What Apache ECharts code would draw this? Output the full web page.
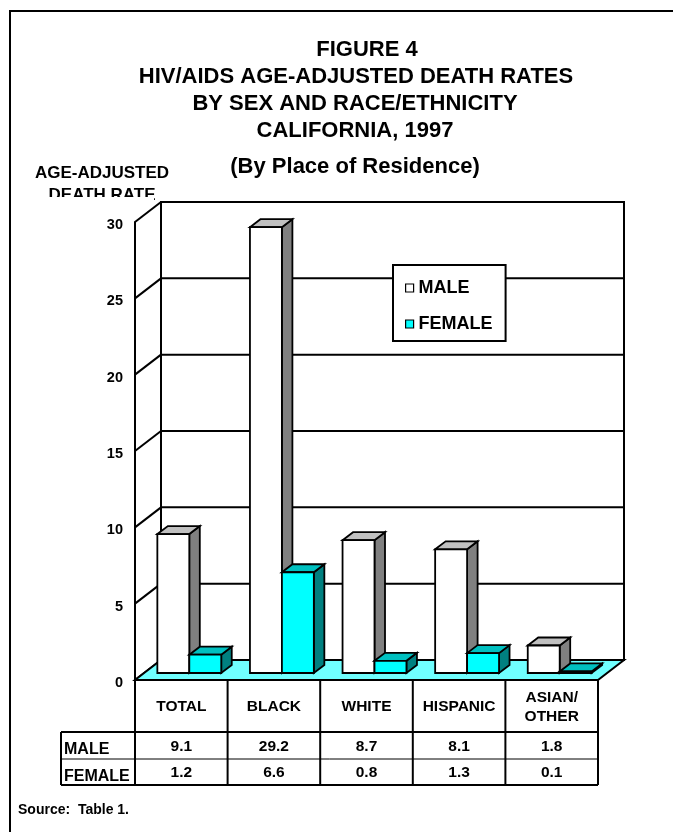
<!DOCTYPE html>
<html><head><meta charset="utf-8">
<script src="https://cdn.jsdelivr.net/npm/echarts@6/dist/echarts.min.js"></script>
<style>html,body{margin:0;padding:0;background:#fff}#c{width:673px;height:832px}</style>
</head><body><div id="c"></div>
<script>
// ---- data ----
const categories = ['TOTAL', 'BLACK', 'WHITE', 'HISPANIC', 'ASIAN/\nOTHER'];
const maleRates = [9.1, 29.2, 8.7, 8.1, 1.8];
const femaleRates = [1.2, 6.6, 0.8, 1.3, 0.1];
const yTicks = [0, 5, 10, 15, 20, 25, 30];
const seriesNames = ['MALE', 'FEMALE'];
const figureLabel = 'FIGURE 4';
const titleLines = ['HIV/AIDS AGE-ADJUSTED DEATH RATES', 'BY SEX AND RACE/ETHNICITY', 'CALIFORNIA, 1997'];
const subTitle = '(By Place of Residence)';
const yAxisTitle = 'AGE-ADJUSTED\nDEATH RATE';
const sourceNote = 'Source:  Table 1.';

// ---- styling constants ----
const FONT = '"Liberation Sans", Arial, Helvetica, sans-serif';
const WALL_DEPTH = [26, -20];
const BAR_SHIFT = [8, -7];
const BAR_DEPTH = [10.5, -8];
const BAR_FRAC = 0.345;
const FLOOR = '#70ffff';
const MALE_COL = { front: '#ffffff', side: '#808080', top: '#c0c0c0' };
const FEMALE_COL = { front: '#00ffff', side: '#008080', top: '#00c0c0' };
const T_HEAD = 52, T_ROW1 = 27, T_ROW2 = 26, LABEL_X = 61;

function ln(a, b, c, d, w) {
  return { type: 'line', shape: { x1: a, y1: b, x2: c, y2: d }, style: { stroke: '#000', lineWidth: w || 2 } };
}
function txt(x, y, s, size, align, valign) {
  return { type: 'text', x: x, y: y, style: { text: s, fill: '#000', font: 'bold ' + size + 'px ' + FONT,
    align: align || 'center', verticalAlign: valign || 'middle', textAlign: align || 'center', textVerticalAlign: valign || 'middle', lineHeight: size + 4 } };
}

function renderFrame(params, api) {
  const cs = params.coordSys;
  const x0 = cs.x, x1 = cs.x + cs.width;
  const band = api.size([1, 0])[0];
  const yOf = v => api.coord([0, v])[1];
  const yBase = yOf(0);
  const yTop = yOf(yTicks[yTicks.length - 1]);
  const dx = WALL_DEPTH[0], dy = WALL_DEPTH[1];
  const ch = [];
  ch.push({ type: 'rect', shape: { x: x0 + dx, y: yTop + dy, width: cs.width, height: yBase - yTop },
    style: { fill: '#fff', stroke: '#000', lineWidth: 2 } });
  yTicks.forEach(v => { if (v > yTicks[0] && v < yTicks[yTicks.length - 1]) ch.push(ln(x0 + dx, yOf(v) + dy, x1 + dx, yOf(v) + dy)); });
  ch.push(ln(x0 + dx, yTop + dy, x0 + dx, yBase + dy));
  yTicks.forEach(v => ch.push(ln(x0, yOf(v), x0 + dx, yOf(v) + dy)));
  ch.push({ type: 'polygon', shape: { points: [[x0, yBase], [x1, yBase], [x1 + dx, yBase + dy], [x0 + dx, yBase + dy]] },
    style: { fill: FLOOR, stroke: '#000', lineWidth: 2, lineJoin: 'miter' } });
  // table
  const yH = yBase + T_HEAD, yR = yH + T_ROW1, yB = yR + T_ROW2;
  for (let k = 0; k <= categories.length; k++) ch.push(ln(x0 + k * band, yBase, x0 + k * band, yB));
  ch.push(ln(LABEL_X, yH, x1, yH));
  ch.push(ln(LABEL_X, yR, x1, yR, 1));
  ch.push(ln(LABEL_X, yB, x1, yB));
  ch.push(ln(LABEL_X, yH, LABEL_X, yB));
  categories.forEach((c, k) => {
    const cx = x0 + (k + 0.5) * band;
    ch.push(txt(cx, yBase + T_HEAD / 2 + 1, c, 15.5));
    ch.push(txt(cx, yH + T_ROW1 / 2 + 1, maleRates[k].toFixed(1), 15.5));
    ch.push(txt(cx, yR + T_ROW2 / 2 + 1, femaleRates[k].toFixed(1), 15.5));
  });
  ch.push(txt(LABEL_X + 3, yR + 1, seriesNames[0], 16, 'left', 'bottom'));
  ch.push(txt(LABEL_X + 3, yB + 2, seriesNames[1], 16, 'left', 'bottom'));
  return { type: 'group', children: ch };
}

function box(x0, x1, yTop, yBot, col) {
  const dx = BAR_DEPTH[0], dy = BAR_DEPTH[1];
  const st = (f) => ({ fill: f, stroke: '#000', lineWidth: 1.8, lineJoin: 'miter' });
  return [
    { type: 'polygon', shape: { points: [[x1, yTop], [x1 + dx, yTop + dy], [x1 + dx, yBot + dy], [x1, yBot]] }, style: st(col.side) },
    { type: 'polygon', shape: { points: [[x0, yTop], [x0 + dx, yTop + dy], [x1 + dx, yTop + dy], [x1, yTop]] }, style: st(col.top) },
    { type: 'rect', shape: { x: x0, y: yTop, width: x1 - x0, height: yBot - yTop }, style: st(col.front) }
  ];
}

function barRenderer(isMale) {
  return function (params, api) {
    const i = api.value(0), v = api.value(1);
    const base = api.coord([i, 0]);
    const top = api.coord([i, v]);
    const band = api.size([1, 0])[0];
    const w = band * BAR_FRAC;
    const xs = base[0] + BAR_SHIFT[0];
    const x0 = isMale ? xs - w : xs, x1 = isMale ? xs : xs + w;
    return { type: 'group', children: box(x0, x1, top[1] + BAR_SHIFT[1], base[1] + BAR_SHIFT[1], isMale ? MALE_COL : FEMALE_COL) };
  };
}

const chart = echarts.init(document.getElementById('c'), null, { renderer: 'canvas' });
const titleStyle = { fontFamily: FONT, fontWeight: 'bold', fontSize: 22, color: '#000' };
chart.setOption({
  animation: false,
  backgroundColor: '#fff',
  title: [
    { text: figureLabel, left: 367, top: 39, textAlign: 'center', padding: 0, textStyle: titleStyle },
    { text: titleLines[0], left: 356, top: 66, textAlign: 'center', padding: 0, textStyle: titleStyle },
    { text: titleLines[1], left: 355, top: 93, textAlign: 'center', padding: 0, textStyle: titleStyle },
    { text: titleLines[2], left: 355, top: 120, textAlign: 'center', padding: 0, textStyle: titleStyle },
    { text: subTitle, left: 355, top: 156, textAlign: 'center', padding: 0, textStyle: titleStyle }
  ],
  legend: {
    data: seriesNames, left: 393, top: 265, orient: 'vertical', icon: 'rect',
    itemWidth: 8, itemHeight: 8, itemGap: 18, padding: [14, 13, 8, 12],
    borderColor: '#000', borderWidth: 2, backgroundColor: '#fff', selectedMode: false,
    itemStyle: { borderColor: '#000', borderWidth: 1.2 },
    textStyle: { fontFamily: FONT, fontWeight: 'bold', fontSize: 18, color: '#000' }
  },
  grid: { left: 135, right: 75, top: 222, bottom: 152 },
  xAxis: { type: 'category', data: categories, axisLine: { show: false }, axisTick: { show: false }, axisLabel: { show: false }, splitLine: { show: false } },
  yAxis: {
    type: 'value', min: yTicks[0], max: yTicks[yTicks.length - 1], interval: 5,
    axisLine: { show: true, lineStyle: { color: '#000', width: 2 } }, axisTick: { show: false }, splitLine: { show: false },
    axisLabel: {
      margin: 12, formatter: v => '{a|' + v + '}',
      rich: { a: { color: '#000', fontWeight: 'bold', fontSize: 14.5, fontFamily: FONT, padding: [6, 0, 0, 0] } }
    }
  },
  graphic: [
    { type: 'text', left: 35, top: 162, z: 1, style: { text: yAxisTitle, font: 'bold 17px ' + FONT, fill: '#000', align: 'center', textAlign: 'center', lineHeight: 22 } },
    { type: 'rect', shape: { x: 30, y: 197, width: 124, height: 9 }, z: 2, style: { fill: '#fff' } },
    { type: 'text', left: 18, top: 803, style: { text: sourceNote, font: 'bold 14px ' + FONT, fill: '#000' } },
    { type: 'rect', shape: { x: 10, y: 11, width: 700, height: 900 }, style: { fill: 'none', stroke: '#000', lineWidth: 2 }, silent: true }
  ],
  series: [
    { type: 'custom', name: 'frame', data: [[0, 0]], renderItem: renderFrame, silent: true, z: 1 },
    { type: 'custom', name: seriesNames[0], data: maleRates.map((v, i) => [i, v]), encode: { x: 0, y: 1 }, renderItem: barRenderer(true), itemStyle: { color: '#ffffff' }, z: 2 },
    { type: 'custom', name: seriesNames[1], data: femaleRates.map((v, i) => [i, v]), encode: { x: 0, y: 1 }, renderItem: barRenderer(false), itemStyle: { color: '#00ffff' }, z: 3 }
  ]
});
</script></body></html>
